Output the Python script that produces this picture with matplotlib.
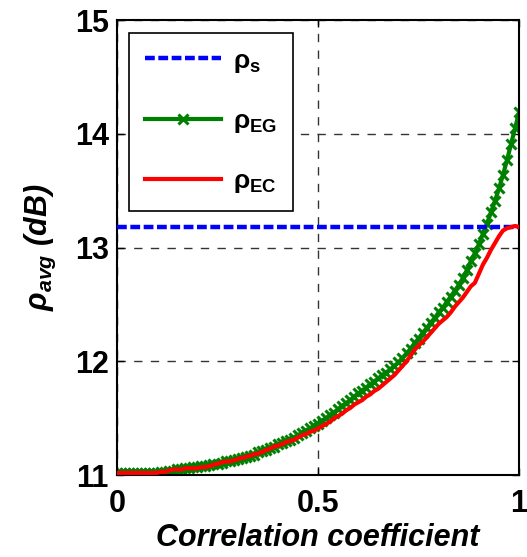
import numpy as np
import matplotlib
matplotlib.use('Agg')
import matplotlib.pyplot as plt

# correlation coefficient grid (step 0.01)
rho_corr = np.linspace(0, 1, 101)

rho_s = 13.18

rho_EG = [11.02, 11.02, 11.02, 11.02, 11.02, 11.02, 11.02, 11.02, 11.02, 11.02, 11.02,
          11.03, 11.03, 11.04, 11.04, 11.05, 11.05, 11.06, 11.06, 11.07, 11.07,
          11.08, 11.08, 11.09, 11.10, 11.10, 11.11, 11.12, 11.12, 11.13, 11.14,
          11.15, 11.16, 11.17, 11.18, 11.20, 11.21, 11.22, 11.24, 11.25, 11.27,
          11.28, 11.30, 11.31, 11.33, 11.35, 11.37, 11.39, 11.41, 11.43, 11.45,
          11.48, 11.50, 11.53, 11.55, 11.58, 11.61, 11.63, 11.66, 11.69, 11.72,
          11.74, 11.77, 11.80, 11.82, 11.85, 11.88, 11.90, 11.93, 11.96, 11.99,
          12.03, 12.07, 12.11, 12.16, 12.20, 12.25, 12.29, 12.34, 12.38, 12.43,
          12.47, 12.52, 12.57, 12.62, 12.67, 12.73, 12.80, 12.88, 12.95, 13.03,
          13.12, 13.21, 13.31, 13.41, 13.52, 13.64, 13.77, 13.91, 14.05, 14.19]

rho_EC = [11.02, 11.02, 11.02, 11.02, 11.02, 11.02, 11.02, 11.02, 11.02, 11.02, 11.02,
          11.03, 11.03, 11.04, 11.05, 11.05, 11.05, 11.06, 11.06, 11.06, 11.06,
          11.07, 11.07, 11.08, 11.09, 11.10, 11.11, 11.12, 11.12, 11.13, 11.14,
          11.15, 11.16, 11.17, 11.18, 11.19, 11.20, 11.22, 11.23, 11.25, 11.26,
          11.27, 11.29, 11.30, 11.31, 11.33, 11.35, 11.36, 11.38, 11.39, 11.41,
          11.43, 11.45, 11.47, 11.50, 11.52, 11.54, 11.57, 11.59, 11.62, 11.64,
          11.66, 11.69, 11.71, 11.74, 11.76, 11.79, 11.82, 11.85, 11.88, 11.92,
          11.96, 12.00, 12.05, 12.10, 12.14, 12.17, 12.21, 12.25, 12.29, 12.33,
          12.36, 12.39, 12.43, 12.48, 12.52, 12.56, 12.61, 12.66, 12.69, 12.77,
          12.85, 12.91, 12.98, 13.04, 13.10, 13.15, 13.17, 13.18, 13.19, 13.18]

plt.rcParams['font.family'] = ['Liberation Sans', 'DejaVu Sans']
plt.rcParams['mathtext.fontset'] = 'custom'
plt.rcParams['mathtext.rm'] = 'Liberation Sans:bold'
plt.rcParams['mathtext.it'] = 'Liberation Sans:italic:bold'
plt.rcParams['mathtext.bf'] = 'Liberation Sans:bold'

fig = plt.figure(figsize=(5.27, 5.57), dpi=100)
ax = fig.add_axes([0.222, 0.147, 0.763, 0.817])

ax.plot([0, 1], [rho_s, rho_s], color='#0000ff', lw=3.2, ls=(0, (2.2, 0.8)),
        label=r'$\mathrm{\rho}_\mathbf{s}$', zorder=3)
ax.plot(rho_corr, rho_EG, '-', color='#008000', lw=3, marker='x', ms=7, mew=2.2,
        label=r'$\mathrm{\rho}_\mathbf{EG}$', zorder=2)
ax.plot(rho_corr, rho_EC, '-', color='#ff0000', lw=3,
        label=r'$\mathrm{\rho}_\mathbf{EC}$', zorder=4)

ax.set_xlim(0, 1)
ax.set_ylim(11, 15)
ax.set_xticks([0, 0.5, 1])
ax.set_xticklabels(['0', '0.5', '1'])
ax.set_yticks([11, 12, 13, 14, 15])
ax.grid(True, color='#333333', ls=(0, (6, 6)), lw=1)
ax.tick_params(direction='in', length=5, width=1, labelsize=22, top=True, right=True)
ax.tick_params(axis='x', pad=10)
ax.tick_params(axis='y', pad=6)
for lab in ax.get_xticklabels() + ax.get_yticklabels():
    lab.set_fontweight('bold')
for sp in ax.spines.values():
    sp.set_linewidth(1.5)

ax.set_xlabel('Correlation coefficient', fontsize=22, fontweight='bold',
              style='italic', labelpad=3)
ax.set_ylabel(r'$\rho_{avg}$ (dB)', fontsize=22, fontweight='bold',
              style='italic', labelpad=12)

leg = ax.legend(loc='upper left', bbox_to_anchor=(0.03, 0.972), borderaxespad=0,
                fontsize=19, handlelength=2.9, labelspacing=1.3, fancybox=False,
                edgecolor='black', framealpha=1, borderpad=0.6, handletextpad=0.45)
leg.get_frame().set_linewidth(1.2)

plt.savefig('out.png', dpi=100)
